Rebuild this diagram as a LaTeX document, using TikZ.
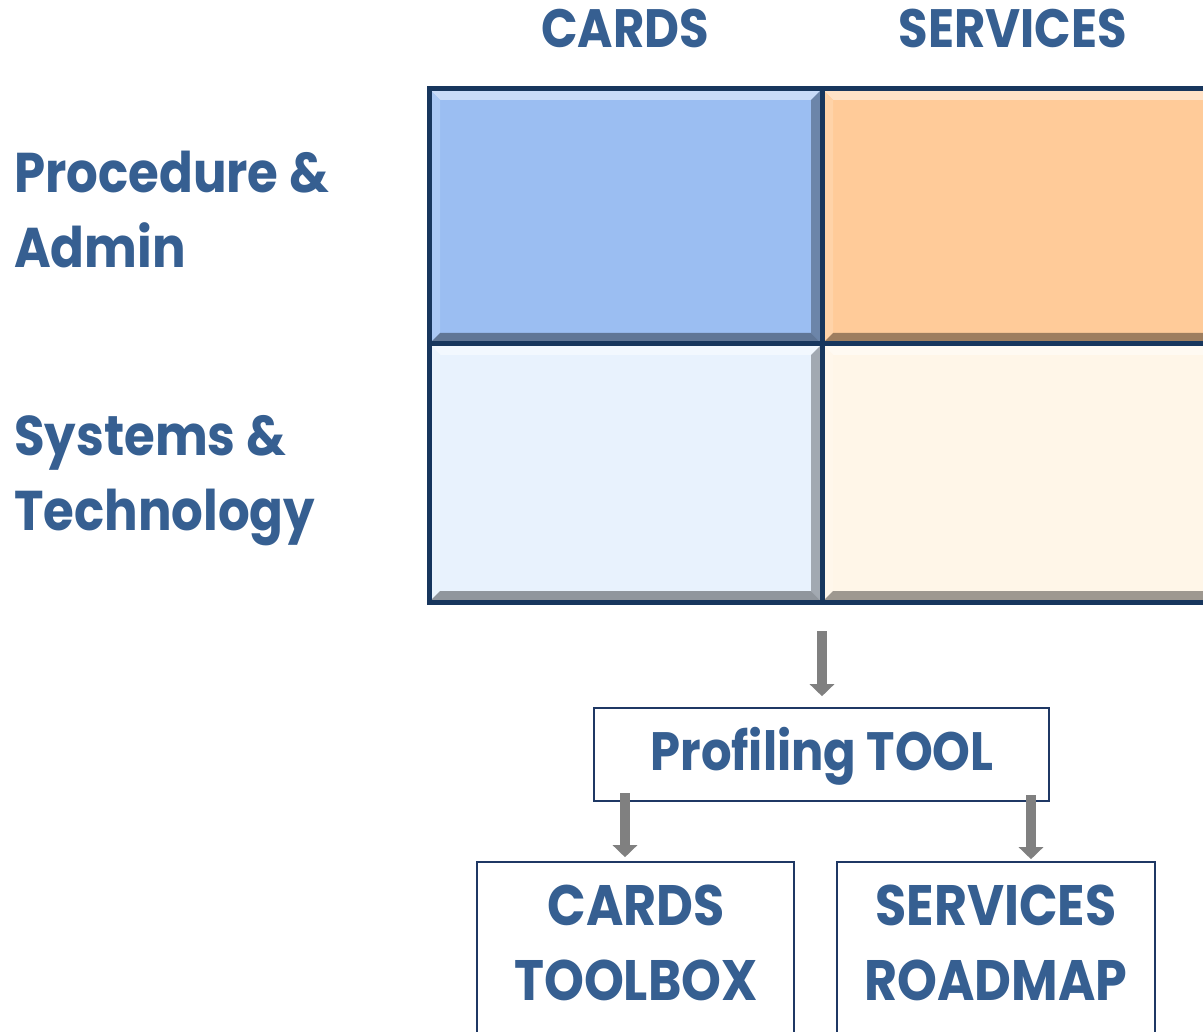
\documentclass[tikz,border=0pt]{standalone}
\usepackage{fontspec}
\setmainfont{Poppins}[FakeStretch=0.89]
\usetikzlibrary{arrows.meta}
\definecolor{txtblue}{HTML}{365F91}
\definecolor{navy}{HTML}{17365D}
\definecolor{boxline}{HTML}{1F3864}
\definecolor{arrgray}{HTML}{808080}
\definecolor{cellA}{HTML}{9BBEF2}
\definecolor{cellB}{HTML}{FFCB99}
\definecolor{cellC}{HTML}{E8F2FD}
\definecolor{cellD}{HTML}{FFF6E8}
\newcommand\bevcell[5]{%
  \fill[#5] (#1,#2) rectangle (#3,#4);
  \fill[#5!55!white] (#1,#2) -- (#3,#2) -- (#3-9,#2+9) -- (#1+9,#2+9) -- cycle;
  \fill[#5!85!white] (#1,#2) -- (#1+9,#2+9) -- (#1+9,#4-9) -- (#1,#4) -- cycle;
  \fill[#5!70!black] (#3,#2) -- (#3,#4) -- (#3-9,#4-9) -- (#3-9,#2+9) -- cycle;
  \fill[#5!62!black] (#1,#4) -- (#3,#4) -- (#3-9,#4-9) -- (#1+9,#4-9) -- cycle;
}
\begin{document}
\begin{tikzpicture}[x=1pt,y=-1pt,
  hdr/.style={font=\fontsize{54}{60}\selectfont\bfseries, text=txtblue, anchor=base, inner sep=0pt},
  rowlbl/.style={font=\fontsize{56}{62}\selectfont\bfseries, text=txtblue, anchor=base west, inner sep=0pt},
  boxtxt/.style={font=\fontsize{54}{60}\selectfont\bfseries, text=txtblue, anchor=base, inner sep=0pt},
  bigtxt/.style={font=\fontsize{57}{62}\selectfont\bfseries, text=txtblue, anchor=base, inner sep=0pt},
  outbox/.style={draw=boxline, line width=1.6pt, fill=white, inner sep=0pt},
  gridline/.style={draw=navy, line width=5pt},
  garrow/.style={draw=arrgray, line width=10pt, -{Triangle[width=24pt,length=12pt]}}
]
\useasboundingbox (0,0) rectangle (1203,1032);
% cells
\bevcell{431}{91}{820}{342}{cellA}
\bevcell{824}{91}{1215}{342}{cellB}
\bevcell{431}{346}{820}{600}{cellC}
\bevcell{824}{346}{1215}{600}{cellD}
\node[inner sep=0pt, minimum width=786pt, minimum height=512pt] (grid) at (822,345) {};
\draw[gridline] (429,89) rectangle (1215,602);
\draw[gridline] (822,89) -- (822,602);
\draw[gridline] (429,344) -- (1215,344);
% headers
\node[hdr] (hcards) at (625,48) {CARDS};
\node[hdr] (hserv) at (1013,48) {SERVICES};
\node[rowlbl] (r1a) at (14,193) {Procedure \&};
\node[rowlbl] (r1b) at (14,268) {Admin};
\node[rowlbl] (r2a) at (14,455) {Systems \&};
\node[rowlbl] (r2b) at (14,530) {Technology};
% boxes
\node[outbox, minimum width=455pt, minimum height=93pt] (prof) at (821.5,754.5) {};
\node[boxtxt] (proft) at (822,770) {Profiling TOOL};
\node[outbox, minimum width=317pt, minimum height=200pt] (ctb) at (635.5,962) {};
\node[bigtxt] (ctb1) at (636,925) {CARDS};
\node[bigtxt] (ctb2) at (636,1000) {TOOLBOX};
\node[outbox, minimum width=318pt, minimum height=200pt] (srm) at (996,962) {};
\node[bigtxt] (srm1) at (996,925) {SERVICES};
\node[bigtxt] (srm2) at (996,1000) {ROADMAP};
% arrows
\coordinate (a1s) at (822,631);
\coordinate (a2s) at (625,793);
\coordinate (a3s) at (1031,795);
\draw[garrow, shorten >=11pt] (a1s) -- (a1s |- prof.north);
\draw[garrow, shorten >=4pt] (a2s) -- (a2s |- ctb.north);
\draw[garrow, shorten >=2pt] (a3s) -- (a3s |- srm.north);
\end{tikzpicture}
\end{document}
